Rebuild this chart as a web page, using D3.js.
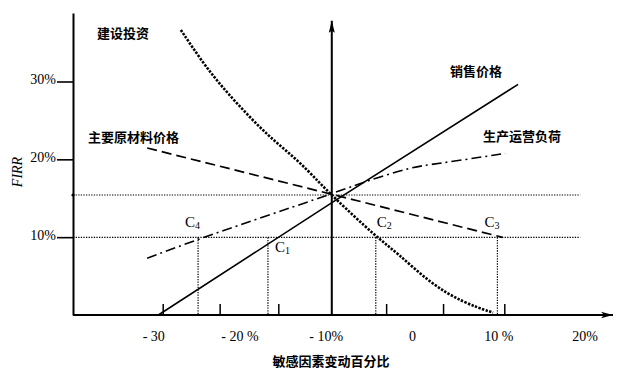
<!DOCTYPE html>
<html><head><meta charset="utf-8">
<script src="https://cdn.jsdelivr.net/npm/d3@7"></script>
<style>body{margin:0;background:#fff}svg{display:block}</style>
</head><body><svg id="c" width="618" height="372"></svg>
<script>
// ---- data (values in % change / % FIRR) ----
const xTickValues = [-30, -20, -10, 0, 10, 20];
const xTickLabels = ["- 30", "- 20 %", "- 10%", "0", "10 %", "20%"];
const xMinorTicks = [-28.9, -22.3, -15.5, -3.0, 3.6, 10.7];
const yTickValues = [10, 20, 30];
const yTickLabels = ["10%", "20%", "30%"];
const baseFIRR = 15.45;      // base-case FIRR
const benchmarkFIRR = 10;    // benchmark rate
const baseX = -9.3;          // base case position on x
const xAxisMin = -39.3, xAxisMax = 23.3, yAxisMax = 38.8, yArrowMax = 37.9, refLineMax = 19.5;

const salesPrice = [[-29.4, 0], [-9.1, 14.6], [12.3, 29.7]];
const investment = [[-26.8, 36.7], [-24.2, 32.4], [-21.9, 29.2], [-19.1, 25.8], [-16.5, 22.9],
                    [-13.3, 20.0], [-10.7, 17.0], [-9.2, 15.3], [-4.1, 10.0], [-1.7, 8.0],
                    [2.1, 4.1], [5.9, 1.6], [9.4, 0.3]];
const materials = [[-30.7, 21.5], [-9.5, 15.6], [10.5, 10.0]];
const capacity = [[-30.7, 7.3], [-24.3, 10.0], [-9.5, 15.5], [-5.7, 17.1], [0.1, 19.1], [2.5, 19.4], [10.8, 20.8]];

const crossNames = ["4", "1", "2", "3"];
const crossX = [-24.8, -16.7, -4.2, 9.9];

const seriesNames = ["销售价格", "建设投资", "主要原材料价格", "生产运营负荷"];

// ---- layout ----
const svg = d3.select("#c");
const x = d3.scaleLinear().domain([xAxisMin, xAxisMax]).range([73, 613]);
const y = d3.scaleLinear().domain([0, 30]).range([315, 82]);
const serif = "'Liberation Serif','DejaVu Serif',serif";
const cjk = "'Noto Sans CJK SC','Noto Sans',sans-serif";

const defs = svg.append("defs");
defs.append("marker").attr("id", "arrR").attr("viewBox", "0 0 12 8").attr("refX", 12).attr("refY", 4)
  .attr("markerWidth", 12).attr("markerHeight", 8).attr("markerUnits", "userSpaceOnUse").attr("orient", "auto")
  .append("path").attr("d", "M0,0.8L12,4L0,7.2L3,4Z").attr("fill", "#000");
defs.append("marker").attr("id", "arrU").attr("viewBox", "0 0 12 8").attr("refX", 12).attr("refY", 4)
  .attr("markerWidth", 12).attr("markerHeight", 8).attr("markerUnits", "userSpaceOnUse").attr("orient", "auto")
  .append("path").attr("d", "M0,1L12,4L0,7L2,4Z").attr("fill", "#000");

// reference dotted lines
const refG = svg.append("g").attr("stroke", "#000").attr("stroke-width", 1.2).attr("stroke-dasharray", "1.3,1.3").attr("fill", "none");
[baseFIRR, benchmarkFIRR].forEach(v => {
  refG.append("line").attr("x1", x(xAxisMin)).attr("x2", x(refLineMax)).attr("y1", y(v)).attr("y2", y(v));
});
crossX.forEach(v => {
  refG.append("line").attr("x1", x(v)).attr("x2", x(v)).attr("y1", y(benchmarkFIRR)).attr("y2", y(0));
});
svg.append("circle").attr("cx", x(xAxisMin)).attr("cy", y(baseFIRR)).attr("r", 1.6).attr("fill", "#000");

// y axis (left)
const yAxis = d3.axisLeft(y.copy().domain([0, yAxisMax]).range([315, 13]))
  .tickValues(yTickValues).tickSize(16).tickSizeOuter(0).tickPadding(1)
  .tickFormat((d, i) => yTickLabels[i]);
const gy = svg.append("g").attr("transform", `translate(${x(xAxisMin)},0)`).call(yAxis);
gy.select(".domain").attr("stroke-width", 2);
gy.selectAll(".tick line").attr("stroke-width", 1.6);
gy.selectAll(".tick text").attr("font-family", serif).attr("font-size", 14).attr("fill", "#000").attr("dy", "0.15em");

// x axis labels
const xAxis = d3.axisBottom(x).tickValues(xTickValues).tickSize(0).tickPadding(16)
  .tickFormat((d, i) => xTickLabels[i]);
const gx = svg.append("g").attr("transform", `translate(0,${y(0)})`).call(xAxis);
gx.select(".domain").remove();
gx.selectAll(".tick text").attr("font-family", serif).attr("font-size", 14).attr("fill", "#000");

// minor ticks on x baseline
const gm = svg.append("g").attr("transform", `translate(0,${y(0)})`)
  .call(d3.axisTop(x).tickValues(xMinorTicks).tickSize(11).tickFormat(""));
gm.select(".domain").remove();
gm.selectAll(".tick line").attr("stroke-width", 1.5);

// baseline with arrow
svg.append("line").attr("x1", x(xAxisMin)).attr("x2", x(xAxisMax)).attr("y1", y(0)).attr("y2", y(0))
  .attr("stroke", "#000").attr("stroke-width", 2).attr("marker-end", "url(#arrR)");
// vertical base-case axis with arrow
svg.append("line").attr("x1", x(baseX)).attr("x2", x(baseX)).attr("y1", y(0)).attr("y2", y(yArrowMax))
  .attr("stroke", "#000").attr("stroke-width", 2).attr("marker-end", "url(#arrU)");

// series
const line = d3.line().x(d => x(d[0])).y(d => y(d[1]));
const curve = d3.line().x(d => x(d[0])).y(d => y(d[1])).curve(d3.curveBasis);
svg.append("path").attr("d", line(materials)).attr("fill", "none").attr("stroke", "#000")
  .attr("stroke-width", 1.7).attr("stroke-dasharray", "10,5");
svg.append("path").attr("d", curve(capacity)).attr("fill", "none").attr("stroke", "#000")
  .attr("stroke-width", 1.6).attr("stroke-dasharray", "10,4,2,4");
svg.append("path").attr("d", line(salesPrice)).attr("fill", "none").attr("stroke", "#000")
  .attr("stroke-width", 1.6);
svg.append("path").attr("d", curve(investment)).attr("fill", "none").attr("stroke", "#000")
  .attr("stroke-width", 2.6).attr("stroke-dasharray", "2.4,1.4");

// series labels
const labelPos = [[450, 71], [97, 33], [88, 137], [483, 136]];
seriesNames.forEach((n, i) => {
  svg.append("text").attr("x", labelPos[i][0]).attr("y", labelPos[i][1]).attr("dy", "0.36em")
    .attr("font-family", cjk).attr("font-weight", "bold").attr("font-size", 13).attr("fill", "#000").text(n);
});

// crossing labels C1..C4
const cOff = [[-13, -10], [7, 15], [1, -10], [-13, -10]];
crossX.forEach((v, i) => {
  const t = svg.append("text").attr("x", x(v) + cOff[i][0]).attr("y", y(benchmarkFIRR) + cOff[i][1])
    .attr("font-family", serif).attr("font-size", 15).attr("fill", "#000");
  t.append("tspan").text("C");
  t.append("tspan").attr("font-size", 10).attr("dy", 2).text(crossNames[i]);
});

// axis titles
svg.append("text").attr("transform", "translate(22,172) rotate(-90)").attr("text-anchor", "middle")
  .attr("font-family", serif).attr("font-style", "italic").attr("font-size", 14).attr("fill", "#000").text("FIRR");
svg.append("text").attr("x", 331).attr("y", 361).attr("dy", "0.36em").attr("text-anchor", "middle")
  .attr("font-family", cjk).attr("font-weight", "bold").attr("font-size", 13).attr("fill", "#000").text("敏感因素变动百分比");
</script></body></html>
